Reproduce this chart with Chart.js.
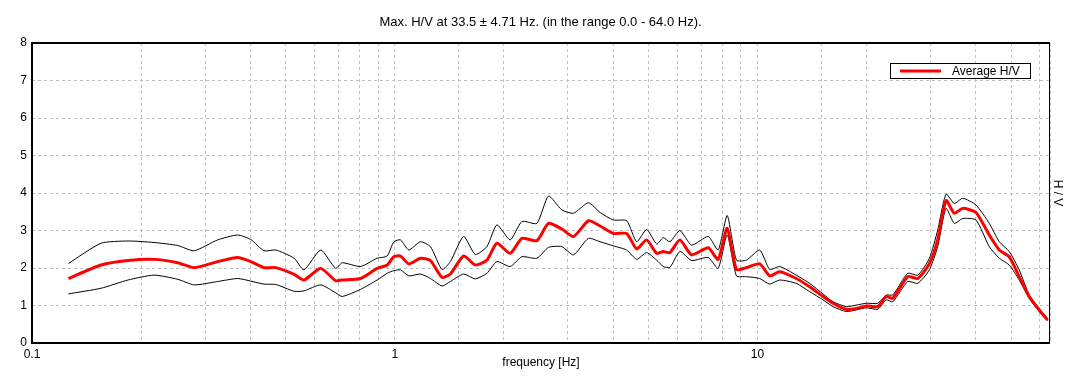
<!DOCTYPE html>
<html>
<head>
<meta charset="utf-8">
<title>H/V</title>
<script src="https://cdn.jsdelivr.net/npm/chart.js"></script>
<style>
  body { margin: 0; background: #fff; }
  canvas { display: block; }
</style>
</head>
<body>
<canvas id="hvChart" width="1081" height="387"></canvas>
<script>
// frequencies in Hz
const freq = [
  0.126, 0.155, 0.184, 0.217, 0.252, 0.280, 0.325, 0.369, 0.401, 0.436, 0.470,
  0.528, 0.562, 0.625, 0.687, 0.716, 0.805, 0.894, 0.953, 0.994, 1.037,
  1.093, 1.177, 1.254, 1.350, 1.423, 1.548, 1.667, 1.795, 1.912, 2.081, 2.241,
  2.465, 2.653, 2.887, 3.109, 3.419, 3.681, 4.005, 4.358, 4.643, 4.947, 5.270,
  5.498, 5.735, 6.109, 6.579, 7.311, 7.788, 8.248, 8.747, 9.320, 10.14, 10.80,
  11.51, 12.79, 13.92, 15.15, 16.14, 17.56, 18.71, 19.93, 21.46, 22.62, 23.60,
  25.95, 27.65, 29.77, 31.37, 33.08, 34.87, 36.77, 40.01, 43.54, 46.39, 49.41,
  52.64, 56.09, 59.75, 63.00
];

const avgHV = [
  1.72, 2.08, 2.20, 2.23, 2.14, 2.01, 2.17, 2.28, 2.17, 2.01, 2.01,
  1.83, 1.68, 1.99, 1.66, 1.68, 1.72, 1.99, 2.08, 2.30, 2.32,
  2.11, 2.26, 2.20, 1.75, 1.84, 2.32, 2.08, 2.21, 2.66, 2.39, 2.79,
  2.73, 3.19, 3.04, 2.84, 3.26, 3.12, 2.92, 2.92, 2.51, 2.75, 2.39,
  2.44, 2.41, 2.75, 2.35, 2.54, 2.23, 3.06, 1.96, 2.01, 2.11, 1.79,
  1.90, 1.72, 1.50, 1.24, 1.06, 0.90, 0.92, 0.99, 0.97, 1.24, 1.19,
  1.77, 1.72, 2.12, 2.75, 3.80, 3.46, 3.59, 3.48, 2.88, 2.48, 2.30,
  1.77, 1.24, 0.88, 0.61
];

const maxHV = [
  2.12, 2.66, 2.72, 2.68, 2.60, 2.46, 2.75, 2.88, 2.76, 2.46, 2.48,
  2.26, 1.95, 2.48, 1.99, 2.14, 2.04, 2.26, 2.32, 2.70, 2.75,
  2.48, 2.70, 2.57, 1.96, 2.17, 2.84, 2.36, 2.57, 3.15, 2.75, 3.24,
  3.19, 3.92, 3.55, 3.46, 3.74, 3.48, 3.28, 3.26, 2.70, 3.03, 2.64,
  2.81, 2.70, 3.00, 2.61, 2.84, 2.48, 3.40, 2.21, 2.21, 2.48, 1.96,
  2.04, 1.81, 1.59, 1.31, 1.10, 0.97, 1.01, 1.06, 1.06, 1.28, 1.28,
  1.86, 1.81, 2.26, 3.01, 3.97, 3.72, 3.86, 3.68, 3.19, 2.70, 2.44,
  1.95, 1.28, 0.92, 0.66
];

const minHV = [
  1.31, 1.46, 1.68, 1.81, 1.70, 1.55, 1.64, 1.72, 1.65, 1.57, 1.56,
  1.38, 1.39, 1.55, 1.34, 1.24, 1.43, 1.68, 1.86, 1.93, 1.95,
  1.79, 1.84, 1.72, 1.52, 1.64, 1.84, 1.71, 1.86, 2.17, 2.04, 2.30,
  2.26, 2.55, 2.57, 2.35, 2.79, 2.70, 2.59, 2.48, 2.23, 2.41, 2.21,
  2.04, 2.02, 2.44, 2.20, 2.28, 1.99, 2.88, 1.79, 1.77, 1.72, 1.57,
  1.68, 1.59, 1.37, 1.15, 0.97, 0.84, 0.88, 0.94, 0.90, 1.15, 1.10,
  1.64, 1.59, 1.95, 2.57, 3.59, 3.19, 3.32, 3.28, 2.57, 2.26, 2.08,
  1.68, 1.19, 0.84, 0.60
];

const xLabels = [0.1, 1, 10];

const toPoints = vals => vals.map((v, i) => ({ x: freq[i], y: v }));

Chart.defaults.font.family = "'Liberation Sans', Arial, sans-serif";
Chart.defaults.font.size = 12;
Chart.defaults.color = '#000';

// black frame round the plot area
const framePlugin = {
  id: 'frame',
  afterDatasetsDraw(chart) {
    const { ctx, chartArea: a } = chart;
    ctx.save();
    ctx.strokeStyle = '#000';
    ctx.lineWidth = 2;
    ctx.beginPath();
    ctx.moveTo(a.right, a.top);
    ctx.lineTo(a.left, a.top);
    ctx.lineTo(a.left, a.bottom);
    ctx.lineTo(a.right, a.bottom);
    ctx.stroke();
    ctx.lineWidth = 1;
    ctx.beginPath();
    ctx.moveTo(a.right - 0.5, a.top);
    ctx.lineTo(a.right - 0.5, a.bottom);
    ctx.stroke();
    ctx.restore();
  }
};

// boxed legend in the upper right corner, only for the average curve
const boxLegend = {
  id: 'boxLegend',
  afterDraw(chart) {
    const { ctx, chartArea: a } = chart;
    const ds = chart.data.datasets[0];
    const left = a.right - 160, top = a.top + 20;
    ctx.save();
    ctx.fillStyle = '#fff';
    ctx.fillRect(left, top, 140, 15);
    ctx.strokeStyle = '#000';
    ctx.lineWidth = 1;
    ctx.strokeRect(left + 0.5, top + 0.5, 140, 15);
    ctx.strokeStyle = ds.borderColor;
    ctx.lineWidth = 3;
    ctx.beginPath();
    ctx.moveTo(left + 10, top + 8);
    ctx.lineTo(left + 51, top + 8);
    ctx.stroke();
    ctx.fillStyle = '#000';
    ctx.font = "12px 'Liberation Sans', Arial, sans-serif";
    ctx.textBaseline = 'middle';
    ctx.fillText(ds.label, left + 62, top + 8.5);
    ctx.restore();
  }
};

new Chart(document.getElementById('hvChart'), {
  type: 'line',
  data: {
    datasets: [
      { label: 'Average H/V', data: toPoints(avgHV), borderColor: '#ff0000', borderWidth: 3 },
      { label: 'max', data: toPoints(maxHV), borderColor: '#000', borderWidth: 1 },
      { label: 'min', data: toPoints(minHV), borderColor: '#000', borderWidth: 1 }
    ]
  },
  options: {
    responsive: false,
    animation: false,
    devicePixelRatio: 1,
    elements: { point: { radius: 0 }, line: { tension: 0.2 } },
    layout: { padding: 0 },
    plugins: {
      legend: { display: false },
      tooltip: { enabled: false },
      title: {
        display: true,
        text: 'Max. H/V at 33.5 ± 4.71 Hz. (in the range 0.0 - 64.0 Hz).',
        font: { size: 13, weight: 'normal' },
        color: '#000',
        padding: { top: 14.2, bottom: 13.2 }
      }
    },
    scales: {
      x: {
        type: 'logarithmic',
        position: 'bottom',
        min: 0.1,
        max: 64,
        afterFit: s => { s.height = 44; },
        grid: { color: '#c0c0c0', drawTicks: false },
        border: { display: false, dash: [3, 3] },
        ticks: {
          autoSkip: false,
          maxRotation: 0,
          padding: 4,
          callback: v => xLabels.some(l => Math.abs(l - v) < 1e-9) ? String(+v.toPrecision(3)) : ''
        },
        title: { display: true, text: 'frequency [Hz]', padding: { top: 0, bottom: 17 } }
      },
      y: {
        position: 'left',
        min: 0,
        max: 8,
        afterFit: s => { s.width = 32; },
        grid: { color: '#c0c0c0', drawTicks: false },
        border: { display: false, dash: [3, 3] },
        ticks: { stepSize: 1, padding: 5 }
      },
      y2: {
        position: 'right',
        min: 0,
        max: 8,
        afterFit: s => { s.width = 31; },
        grid: { display: false },
        border: { display: false },
        ticks: { display: false },
        title: { display: true, text: 'H / V', padding: { top: 16, bottom: 0 } }
      }
    }
  },
  plugins: [framePlugin, boxLegend]
});
</script>
</body>
</html>
